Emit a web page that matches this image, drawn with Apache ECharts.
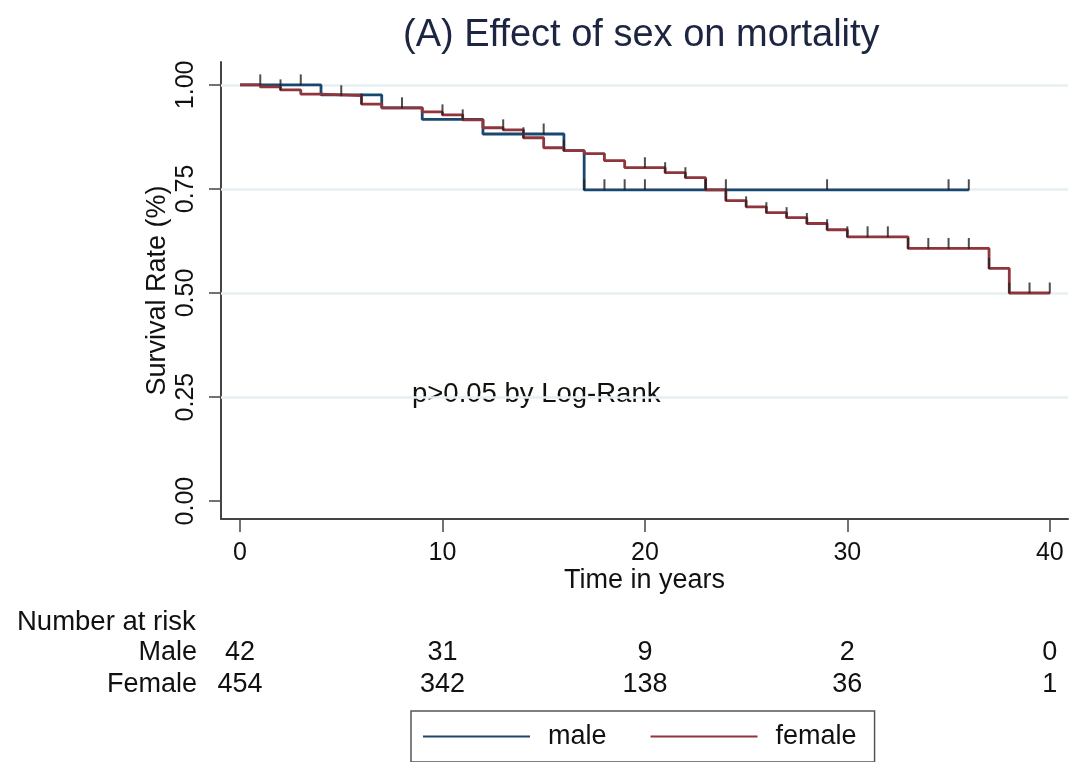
<!DOCTYPE html>
<html>
<head>
<meta charset="utf-8">
<script src="https://cdn.jsdelivr.net/npm/echarts@6/dist/echarts.min.js"></script>
<style>
  html, body { margin: 0; padding: 0; background: #fff; }
  #main { width: 1071px; height: 762px; }
</style>
</head>
<body>
<div id="main"></div>
<script>
// Kaplan-Meier steps
const maleTimes = [0, 4, 7, 9, 12, 16, 17, 36];
const maleSurv = [1.0, 0.976, 0.945, 0.917, 0.882, 0.842, 0.748, 0.748];
const femaleTimes = [0, 1, 2, 3, 4, 6, 7, 9, 10, 11, 12, 13, 14, 15, 16, 17, 18, 19, 21, 22, 23, 24, 25, 26, 27, 28, 29, 30, 33, 37, 38, 40];
const femaleSurv = [1.0, 0.995, 0.988, 0.978, 0.974, 0.954, 0.945, 0.935, 0.928, 0.916, 0.897, 0.892, 0.873, 0.849, 0.842, 0.835, 0.818, 0.801, 0.789, 0.777, 0.748, 0.722, 0.707, 0.693, 0.681, 0.667, 0.652, 0.635, 0.607, 0.559, 0.5, 0.5];

// censoring marks (years)
const maleCensor = [1, 3, 15, 16, 17, 18, 19, 20, 23, 24, 29, 35, 36];
const femaleCensor = [2, 5, 6, 8, 10, 11, 13, 14, 20, 21, 22, 23, 24, 25, 26, 27, 28, 29, 30, 31, 32, 33, 34, 35, 36, 37, 38, 39, 40];

// number at risk table
const riskTimes = [0, 10, 20, 30, 40];
const maleAtRisk = [42, 31, 9, 2, 0];
const femaleAtRisk = [454, 342, 138, 36, 1];

const xTicks = [0, 10, 20, 30, 40];
const yTicks = [0, 0.25, 0.5, 0.75, 1];

const maleColor = '#1a476f';
const femaleColor = '#90353b';
const FONT = 'Liberation Sans';

function survAt(times, surv, t) {
  let v = surv[0];
  for (let i = 0; i < times.length; i++) {
    if (times[i] <= t) v = surv[i];
  }
  return v;
}
function pairs(xs, ys) { return xs.map((x, i) => [x, ys[i]]); }

const chart = echarts.init(document.getElementById('main'));

const option = {
  animation: false,
  backgroundColor: '#fff',
  textStyle: { fontFamily: FONT },
  title: {
    text: '(A) Effect of sex on mortality',
    left: 398,
    top: 12,
    textStyle: { fontFamily: FONT, fontSize: 38, fontWeight: 'normal', color: '#1c2541' }
  },
  legend: {
    data: ['male', 'female'],
    left: 411,
    top: 711,
    orient: 'horizontal',
    icon: 'rect',
    itemWidth: 107,
    itemHeight: 2,
    itemGap: 44,
    padding: [12, 18, 12, 12],
    borderColor: '#555',
    borderWidth: 1.5,
    textStyle: { fontFamily: FONT, fontSize: 27, color: '#111', padding: [0, 0, 0, 13] }
  },
  grid: { left: 221, right: 3, top: 62, bottom: 243 },
  xAxis: {
    type: 'value',
    min: -0.94,
    max: 40.9,
    name: 'Time in years',
    nameLocation: 'middle',
    nameGap: 48,
    nameMoveOverlap: false,
    nameTextStyle: { fontFamily: FONT, fontSize: 27, color: '#111' },
    axisLine: { show: true, onZero: false, lineStyle: { color: '#444', width: 2 } },
    axisTick: { show: true, customValues: xTicks, length: 13, lineStyle: { color: '#444', width: 1.5 } },
    axisLabel: { customValues: xTicks, margin: 22, fontSize: 25, color: '#111', fontFamily: FONT },
    splitLine: { show: false }
  },
  yAxis: {
    type: 'value',
    min: -0.043,
    max: 1.055,
    name: 'Survival Rate (%)',
    nameLocation: 'middle',
    nameRotate: 90,
    nameGap: 50,
    nameMoveOverlap: false,
    nameTextStyle: { fontFamily: FONT, fontSize: 27, color: '#111' },
    axisLine: { show: true, onZero: false, lineStyle: { color: '#444', width: 2 } },
    axisTick: { show: true, customValues: yTicks, length: 12, lineStyle: { color: '#444', width: 1.5 } },
    axisLabel: {
      customValues: yTicks, rotate: 90, margin: 22, fontSize: 25, color: '#111', fontFamily: FONT,
      formatter: v => v.toFixed(2)
    },
    splitLine: { show: false }
  },
  series: [
    {
      name: 'gridlines',
      type: 'line',
      data: [[0, 0]],
      symbol: 'none',
      lineStyle: { opacity: 0 },
      silent: true,
      z: 1,
      markLine: {
        silent: true,
        z: 1,
        symbol: 'none',
        label: { show: false },
        lineStyle: { color: '#e6eff1', width: 2.5, type: 'solid' },
        data: yTicks.filter(v => v > 0).map(v => ({ yAxis: v }))
      }
    },
    {
      name: 'male',
      type: 'line',
      step: 'end',
      data: pairs(maleTimes, maleSurv),
      symbol: 'none',
      color: maleColor,
      lineStyle: { color: maleColor, width: 2.8 },
      z: 10
    },
    {
      name: 'female',
      type: 'line',
      step: 'end',
      data: pairs(femaleTimes, femaleSurv),
      symbol: 'none',
      color: femaleColor,
      lineStyle: { color: femaleColor, width: 2.8 },
      z: 11
    },
    {
      name: 'male censored',
      type: 'scatter',
      data: maleCensor.map(t => [t, survAt(maleTimes, maleSurv, t)]),
      symbol: 'rect',
      symbolSize: [2, 11],
      symbolOffset: [0, -5],
      itemStyle: { color: '#222' },
      z: 12
    },
    {
      name: 'female censored',
      type: 'scatter',
      data: femaleCensor.map(t => [t, survAt(femaleTimes, femaleSurv, t)]),
      symbol: 'rect',
      symbolSize: [2, 11],
      symbolOffset: [0, -5],
      itemStyle: { color: '#222' },
      z: 12
    }
  ]
};

chart.setOption(option);

// annotation and number-at-risk table, placed through the x scale
const riskStyle = { fontFamily: FONT, fontSize: 27, fill: '#111' };
const graphics = [
  {
    type: 'text', left: 412, top: 380,
    style: Object.assign({ text: 'p>0.05 by Log-Rank' }, riskStyle, { fontSize: 27.5 })
  },
  { type: 'text', x: 17, y: 622, style: Object.assign({ text: 'Number at risk', align: 'left', verticalAlign: 'middle' }, riskStyle, { fontSize: 27.5 }) },
  { type: 'text', x: 197, y: 653, style: Object.assign({ text: 'Male', align: 'right', verticalAlign: 'middle' }, riskStyle) },
  { type: 'text', x: 197, y: 685, style: Object.assign({ text: 'Female', align: 'right', verticalAlign: 'middle' }, riskStyle) }
];
riskTimes.forEach((t, i) => {
  const px = chart.convertToPixel({ xAxisIndex: 0 }, t);
  graphics.push({ type: 'text', x: px, y: 653, style: Object.assign({ text: String(maleAtRisk[i]), align: 'center', verticalAlign: 'middle' }, riskStyle) });
  graphics.push({ type: 'text', x: px, y: 685, style: Object.assign({ text: String(femaleAtRisk[i]), align: 'center', verticalAlign: 'middle' }, riskStyle) });
});
chart.setOption({ graphic: graphics });
</script>
</body>
</html>
